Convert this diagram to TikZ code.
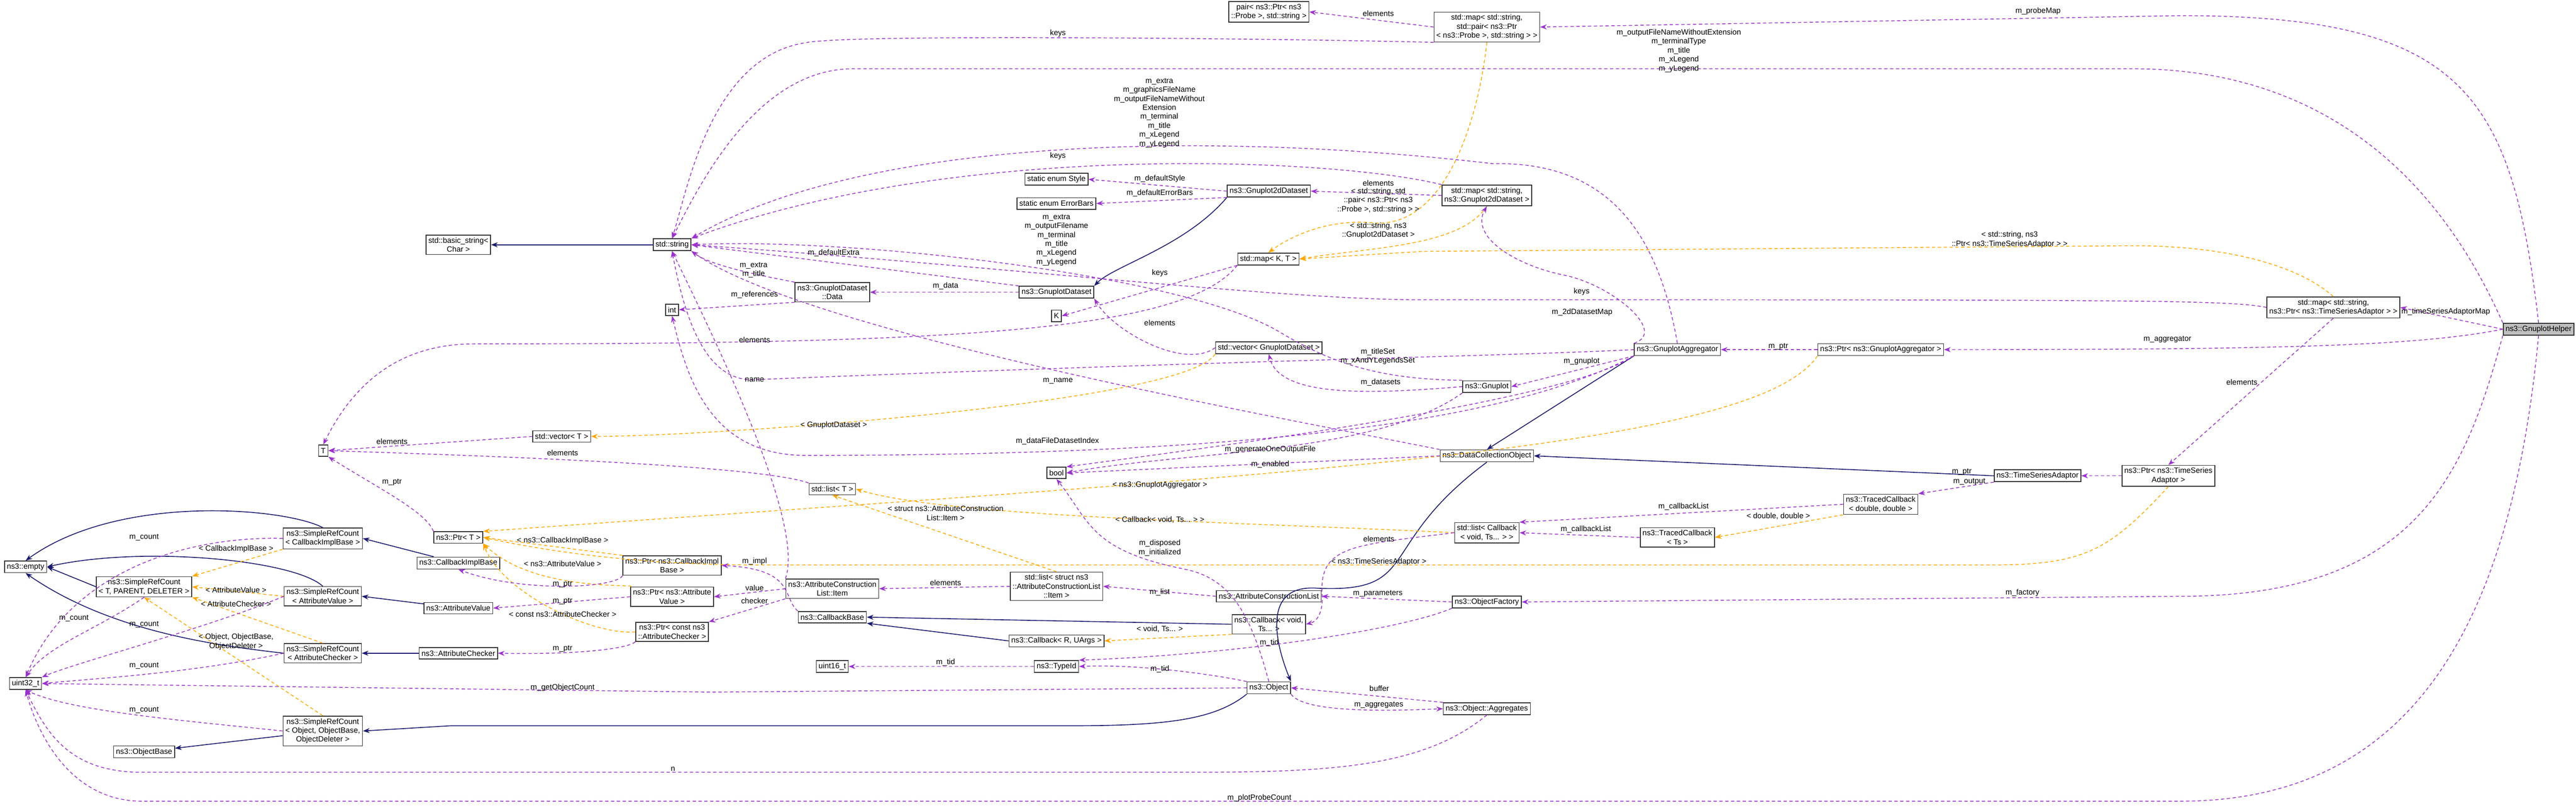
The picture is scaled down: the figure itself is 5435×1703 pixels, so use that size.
\documentclass[tikz,border=0pt]{standalone}
\usepackage{fontspec}
\setmainfont{Liberation Sans}
\usetikzlibrary{arrows.meta}
\definecolor{pur}{HTML}{9A32CD}
\definecolor{org}{HTML}{FFA500}
\definecolor{nav}{HTML}{191970}
\newcommand{\lblfont}{\fontsize{4.6}{5.4}\selectfont}
\tikzset{
  box/.style={draw=black!80, line width=0.5pt, fill=white, inner sep=1.4pt, align=center, font=\lblfont, minimum height=0.24cm},
  lab/.style={font=\lblfont, align=center, inner sep=0.5pt},
  pe/.style={draw=pur, line width=0.45pt, dash pattern=on 2pt off 1.5pt, -{Stealth[length=4pt,width=3pt]}},
  te/.style={draw=org, line width=0.45pt, dash pattern=on 2pt off 1.5pt, -{Stealth[length=4pt,width=3pt]}},
  ie/.style={draw=nav, line width=0.5pt, -{Stealth[length=4pt,width=3pt]}},
}
\begin{document}
\begin{tikzpicture}[x=0.01cm,y=-0.01cm]
\useasboundingbox (0,0) rectangle (5435,1703);
% nodes
\node[box,fill=black!25] (helper) at (5356,694) {ns3::GnuplotHelper};
\node[box] (mapProbe) at (3137,57) {std::map< std::string,\\ std::pair< ns3::Ptr\\< ns3::Probe >, std::string > >};
\node[box] (pair) at (2677,25) {pair< ns3::Ptr< ns3\\::Probe >, std::string >};
\node[box] (g2d) at (2677,403) {ns3::Gnuplot2dDataset};
\node[box] (mapG2d) at (3137,412) {std::map< std::string,\\ ns3::Gnuplot2dDataset >};
\node[box] (mapKT) at (2676,546) {std::map< K, T >};
\node[box] (style) at (2229,378) {static enum Style};
\node[box] (errb) at (2229,429) {static enum ErrorBars};
\node[box] (gds) at (2229,616) {ns3::GnuplotDataset};
\node[box] (data) at (1756,616) {ns3::GnuplotDataset\\::Data};
\node[box] (str) at (1418,516) {std::string};
\node[box] (bstr) at (967,516) {std::basic\_string<\\ Char >};
\node[box] (int) at (1418,653) {int};
\node[box] (K) at (2229,666) {K};
\node[box] (vecG) at (2677,733) {std::vector< GnuplotDataset >};
\node[box] (mapTSA) at (4923,648) {std::map< std::string,\\ ns3::Ptr< ns3::TimeSeriesAdaptor > >};
\node[box] (agg) at (3539,737) {ns3::GnuplotAggregator};
\node[box] (ptrAgg) at (3968,737) {ns3::Ptr< ns3::GnuplotAggregator >};
\node[box] (gnuplot) at (3137,815) {ns3::Gnuplot};
\node[box] (dco) at (3137,961) {ns3::DataCollectionObject};
\node[box] (bool) at (2229,997) {bool};
\node[box] (listT) at (1756,1031) {std::list< T >};
\node[box] (vecT) at (1185,920) {std::vector< T >};
\node[box] (T) at (682,950) {T};
\node[box] (tcdd) at (3968,1063) {ns3::TracedCallback\\< double, double >};
\node[box] (tsa) at (4299,1003) {ns3::TimeSeriesAdaptor};
\node[box] (ptrTsa) at (4575,1003) {ns3::Ptr< ns3::TimeSeries\\Adaptor >};
\node[box] (listCb) at (3137,1123) {std::list< Callback\\< void, Ts... > >};
\node[box] (tcTs) at (3539,1133) {ns3::TracedCallback\\< Ts >};
\node[box] (acl) at (2677,1257) {ns3::AttributeConstructionList};
\node[box] (item) at (1756,1241) {ns3::AttributeConstruction\\List::Item};
\node[box] (listItem) at (2229,1236) {std::list< struct ns3\\::AttributeConstructionList\\::Item >};
\node[box] (of) at (3137,1269) {ns3::ObjectFactory};
\node[box] (cbv) at (2677,1316) {ns3::Callback< void,\\ Ts... >};
\node[box] (cbR) at (2229,1351) {ns3::Callback< R, UArgs >};
\node[box] (cbb) at (1756,1301) {ns3::CallbackBase};
\node[box] (ptrCib) at (1418,1192) {ns3::Ptr< ns3::CallbackImpl\\Base >};
\node[box] (ptrAv) at (1418,1258) {ns3::Ptr< ns3::Attribute\\Value >};
\node[box] (ptrAc) at (1418,1332) {ns3::Ptr< const ns3\\::AttributeChecker >};
\node[box] (u16) at (1756,1405) {uint16\_t};
\node[box] (tid) at (2229,1405) {ns3::TypeId};
\node[box] (obj) at (2677,1450) {ns3::Object};
\node[box] (agr) at (3137,1494) {ns3::Object::Aggregates};
\node[box] (empty) at (54,1195) {ns3::empty};
\node[box] (srcCib) at (681,1135) {ns3::SimpleRefCount\\< CallbackImplBase >};
\node[box] (ptrT) at (967,1133) {ns3::Ptr< T >};
\node[box] (cib) at (967,1187) {ns3::CallbackImplBase};
\node[box] (srcT) at (304,1237) {ns3::SimpleRefCount\\< T, PARENT, DELETER >};
\node[box] (srcAv) at (681,1257) {ns3::SimpleRefCount\\< AttributeValue >};
\node[box] (av) at (967,1282) {ns3::AttributeValue};
\node[box] (srcAc) at (681,1377) {ns3::SimpleRefCount\\< AttributeChecker >};
\node[box] (ac) at (967,1377) {ns3::AttributeChecker};
\node[box] (u32) at (54,1441) {uint32\_t};
\node[box] (srcObj) at (681,1541) {ns3::SimpleRefCount\\< Object, ObjectBase,\\ ObjectDeleter >};
\node[box] (ob) at (304,1585) {ns3::ObjectBase};

% inheritance
\draw[ie] (str) -- (bstr);
\draw[ie] (srcCib.north) .. controls (600,1070) and (250,1040) .. (empty.north);
\draw[ie] (srcAv.north) .. controls (620,1180) and (300,1150) .. (empty.east);
\draw[ie] (srcT.west) -- (empty.east);
\draw[ie] (srcAc.west) .. controls (450,1360) and (230,1330) .. (empty.south);
\draw[ie] (cib) -- (srcCib.east);
\draw[ie] (av) -- (srcAv.east);
\draw[ie] (ac) -- (srcAc.east);
\draw[ie] (obj.south west) .. controls (2560,1520) and (2450,1530) .. (2250,1530) -- (950,1530) -- (srcObj.east);
\draw[ie] (srcObj) -- (ob);
\draw[ie] (cbv.west) -- (cbb.east);
\draw[ie] (cbR.west) -- (cbb.south east);
\draw[ie] (g2d.south west) .. controls (2500,520) and (2350,560) .. (gds.north east);
\draw[ie] (dco.south) .. controls (2900,1150) and (3000,1250) .. (2780,1240) .. controls (2650,1230) and (2700,1380) .. (obj.north east);
\draw[ie] (agg.south west) -- (dco.north);
\draw[ie] (tsa.west) -- (dco.east);

% templates
\draw[te] (srcCib.south west) -- (srcT.north east);
\draw[te] (srcAv.west) -- (srcT.east);
\draw[te] (srcAc.north) -- (srcT.south east);
\draw[te] (srcObj.north) -- (srcT.south);
\draw[te] (ptrCib.north west) -- (ptrT.east);
\draw[te] (ptrAv.north west) .. controls (1350,1230) and (1130,1250) .. (ptrT.south east);
\draw[te] (ptrAc.west) .. controls (1250,1340) and (1060,1250) .. (ptrT.south east);
\draw[te] (ptrAgg.south west) .. controls (3700,950) and (2700,1000) .. (ptrT.north east);
\draw[te] (ptrTsa.south) .. controls (4450,1160) and (4400,1191) .. (4200,1191) -- (1600,1191) .. controls (1300,1191) and (1100,1150) .. (ptrT.east);
\draw[te] (listCb.west) .. controls (2600,1100) and (2000,1090) .. (listT.east);
\draw[te] (listItem.north) -- (listT.south);
\draw[te] (vecG.south west) .. controls (2500,850) and (1500,920) .. (vecT.east);
\draw[te] (mapProbe.south) .. controls (3120,250) and (3050,480) .. (2900,470) .. controls (2800,460) and (2720,500) .. (mapKT.north);
\draw[te] (mapG2d.south) .. controls (3080,520) and (2900,520) .. (mapKT.east);
\draw[te] (mapTSA.north) .. controls (4850,560) and (4700,518) .. (4500,518) -- (3000,530) -- (mapKT.east);
\draw[te] (cbv.south west) -- (cbR.east);
\draw[te] (tcdd.south west) -- (tcTs.east);

% members
\draw[pe] (srcCib.west) .. controls (400,1130) and (150,1200) .. (u32.north);
\draw[pe] (srcT.south) .. controls (200,1330) and (100,1360) .. (u32.north);
\draw[pe] (srcAv.west) .. controls (450,1320) and (150,1400) .. (u32.north east);
\draw[pe] (srcAc.west) .. controls (400,1420) and (200,1430) .. (u32.east);
\draw[pe] (srcObj.west) .. controls (400,1520) and (150,1500) .. (u32.south);
\draw[pe] (obj.west) -- (1500,1459) -- (u32.east);
\draw[pe] (agr.south) .. controls (3000,1620) and (2800,1628) .. (2500,1628) -- (300,1628) .. controls (150,1628) and (100,1550) .. (u32.south);
\draw[pe] (helper.south) .. controls (5300,1300) and (5100,1689) .. (4600,1689) -- (300,1689) .. controls (150,1689) and (80,1550) .. (u32.south);
\draw[pe] (ptrT.north west) .. controls (900,1080) and (800,1030) .. (T.south east);
\draw[pe] (vecT.west) -- (T.east);
\draw[pe] (listT.north west) .. controls (1600,980) and (1000,960) .. (T.east);
\draw[pe] (mapKT.south west) .. controls (2500,700) and (2000,725) .. (1000,725) .. controls (850,725) and (750,800) .. (T.north);
\draw[pe] (mapKT.south west) -- (K.east);
\draw[pe] (ptrCib.south west) .. controls (1300,1240) and (1100,1250) .. (cib.south);
\draw[pe] (ptrAv.west) -- (av.east);
\draw[pe] (ptrAc.south west) .. controls (1320,1370) and (1200,1380) .. (ac.east);
\draw[pe] (item.west) -- (ptrAv.east);
\draw[pe] (item.south west) -- (ptrAc.north east);
\draw[pe] (item.north west) .. controls (1700,1100) and (1500,700) .. (str.south);
\draw[pe] (cbb.north west) .. controls (1650,1260) and (1680,1200) .. (ptrCib.east);
\draw[pe] (listItem.west) -- (item.east);
\draw[pe] (acl.west) -- (listItem.east);
\draw[pe] (of.west) -- (acl.east);
\draw[pe] (of.south west) .. controls (2950,1330) and (2600,1380) .. (tid.north east);
\draw[pe] (obj.north west) .. controls (2550,1420) and (2400,1400) .. (tid.east);
\draw[pe] (tid.west) -- (u16.east);
\draw[pe] (obj.north) .. controls (2640,1300) and (2600,1220) .. (2500,1200) .. controls (2300,1160) and (2300,1100) .. (bool.south);
\draw[pe] (obj.south east) .. controls (2750,1500) and (2900,1500) .. (agr.west);
\draw[pe] (agr.north west) -- (obj.east);
\draw[pe] (g2d.west) -- (style.east);
\draw[pe] (g2d.south west) -- (errb.east);
\draw[pe] (gds.west) -- (data.east);
\draw[pe] (gds.north west) -- (str.east);
\draw[pe] (data.north west) .. controls (1600,580) and (1500,560) .. (str.south east);
\draw[pe] (data.south west) -- (int.east);
\draw[pe] (mapG2d.west) -- (g2d.east);
\draw[pe] (mapG2d.north west) .. controls (2800,330) and (2000,300) .. (str.north east);
\draw[pe] (mapProbe.west) -- (pair.east);
\draw[pe] (mapProbe.south west) .. controls (2800,83) and (1800,70) .. (1700,90) .. controls (1500,120) and (1450,400) .. (str.north);
\draw[pe] (helper.north) .. controls (5300,200) and (5200,33) .. (4600,33) -- (mapProbe.east);
\draw[pe] (helper.north west) .. controls (5200,500) and (5000,145) .. (4500,145) -- (1800,145) .. controls (1600,145) and (1480,380) .. (str.north);
\draw[pe] (agg.north) .. controls (3500,500) and (3400,340) .. (3150,345) .. controls (2500,270) and (1800,300) .. (str.north east);
\draw[pe] (gnuplot.north west) .. controls (2900,800) and (2800,760) .. (2700,700) .. controls (2500,580) and (1800,500) .. (str.east);
\draw[pe] (mapTSA.west) .. controls (4700,632) and (4500,632) .. (3000,632) .. controls (2700,632) and (2100,560) .. (str.east);
\draw[pe] (helper.west) .. controls (5100,730) and (4800,737) .. (ptrAgg.east);
\draw[pe] (helper.south west) .. controls (5200,1000) and (5100,1257) .. (4600,1257) -- (of.east);
\draw[pe] (helper.west) -- (mapTSA.east);
\draw[pe] (mapTSA.south) -- (ptrTsa.north);
\draw[pe] (ptrTsa.west) -- (tsa.east);
\draw[pe] (tsa.south west) -- (tcdd.north east);
\draw[pe] (tcdd.west) -- (listCb.north east);
\draw[pe] (tcTs.west) -- (listCb.east);
\draw[pe] (listCb.west) .. controls (2850,1150) and (2780,1150) .. (2790,1260) .. controls (2790,1290) and (2780,1310) .. (cbv.east);
\draw[pe] (ptrAgg.west) -- (agg.east);
\draw[pe] (agg.south west) -- (gnuplot.east);
\draw[pe] (agg.west) .. controls (3200,750) and (2600,760) .. (1600,800) .. controls (1500,810) and (1450,700) .. (str.south);
\draw[pe] (agg.north west) .. controls (3520,700) and (3400,600) .. (3300,580) .. controls (3200,560) and (3100,500) .. (mapG2d.south);
\draw[pe] (agg.south west) .. controls (3300,850) and (2500,950) .. (bool.north east);
\draw[pe] (agg.south west) .. controls (3200,880) and (2700,960) .. (1700,960) .. controls (1500,960) and (1450,800) .. (int.south);
\draw[pe] (gnuplot.west) .. controls (2900,830) and (2700,840) .. (vecG.south);
\draw[pe] (gnuplot.south west) .. controls (2900,960) and (2500,950) .. (bool.east);
\draw[pe] (dco.west) -- (bool.east);
\draw[pe] (dco.north west) .. controls (2700,880) and (1700,700) .. (str.south east);
\draw[pe] (vecG.west) .. controls (2500,780) and (2350,700) .. (gds.south east);

% labels
\node[lab] at (4300,24) {m\_probeMap};
\node[lab] at (2908,28) {elements};
\node[lab] at (2232,70) {keys};
\node[lab] at (3542,107) {m\_outputFileNameWithoutExtension\\m\_terminalType\\m\_title\\m\_xLegend\\m\_yLegend};
\node[lab] at (2446,238) {m\_extra\\m\_graphicsFileName\\m\_outputFileNameWithout\\Extension\\m\_terminal\\m\_title\\m\_xLegend\\m\_yLegend};
\node[lab] at (2232,329) {keys};
\node[lab] at (2447,377) {m\_defaultStyle};
\node[lab] at (2447,407) {m\_defaultErrorBars};
\node[lab] at (2908,386) {elements};
\node[lab] at (2908,423) {< std::string, std\\::pair< ns3::Ptr< ns3\\::Probe >, std::string > >};
\node[lab] at (2908,486) {< std::string, ns3\\::Gnuplot2dDataset >};
\node[lab] at (4240,505) {< std::string, ns3\\::Ptr< ns3::TimeSeriesAdaptor > >};
\node[lab] at (2229,506) {m\_extra\\m\_outputFilename\\m\_terminal\\m\_title\\m\_xLegend\\m\_yLegend};
\node[lab] at (1759,533) {m\_defaultExtra};
\node[lab] at (1590,569) {m\_extra\\m\_title};
\node[lab] at (2447,576) {keys};
\node[lab] at (1995,603) {m\_data};
\node[lab] at (1592,621) {m\_references};
\node[lab] at (3337,615) {keys};
\node[lab] at (3338,658) {m\_2dDatasetMap};
\node[lab] at (5160,657) {m\_timeSeriesAdaptorMap};
\node[lab] at (2447,681) {elements};
\node[lab] at (1592,717) {elements};
\node[lab] at (4573,716) {m\_aggregator};
\node[lab] at (3752,731) {m\_ptr};
\node[lab] at (2907,751) {m\_titleSet\\m\_xAndYLegendsSet};
\node[lab] at (3337,762) {m\_gnuplot};
\node[lab] at (2913,806) {m\_datasets};
\node[lab] at (1592,801) {name};
\node[lab] at (2232,803) {m\_name};
\node[lab] at (4730,806) {elements};
\node[lab] at (1759,896) {< GnuplotDataset >};
\node[lab] at (2231,930) {m\_dataFileDatasetIndex};
\node[lab] at (827,931) {elements};
\node[lab] at (2680,947) {m\_generateOneOutputFile};
\node[lab] at (1187,955) {elements};
\node[lab] at (2680,979) {m\_enabled};
\node[lab] at (4139,995) {m\_ptr};
\node[lab] at (827,1017) {m\_ptr};
\node[lab] at (4155,1016) {m\_output};
\node[lab] at (2447,1022) {< ns3::GnuplotAggregator >};
\node[lab] at (3552,1068) {m\_callbackList};
\node[lab] at (1995,1082) {< struct ns3::AttributeConstruction\\List::Item >};
\node[lab] at (3752,1088) {< double, double >};
\node[lab] at (2447,1096) {< Callback< void, Ts... > >};
\node[lab] at (3346,1116) {m\_callbackList};
\node[lab] at (304,1133) {m\_count};
\node[lab] at (1187,1140) {< ns3::CallbackImplBase >};
\node[lab] at (2909,1136) {elements};
\node[lab] at (498,1157) {< CallbackImplBase >};
\node[lab] at (2447,1155) {m\_disposed\\m\_initialized};
\node[lab] at (1592,1183) {m\_impl};
\node[lab] at (2909,1184) {< ns3::TimeSeriesAdaptor >};
\node[lab] at (1187,1188) {< ns3::AttributeValue >};
\node[lab] at (1995,1229) {elements};
\node[lab] at (1187,1232) {m\_ptr};
\node[lab] at (1592,1239) {value};
\node[lab] at (498,1244) {< AttributeValue >};
\node[lab] at (2447,1248) {m\_list};
\node[lab] at (2907,1251) {m\_parameters};
\node[lab] at (4267,1250) {m\_factory};
\node[lab] at (1592,1266) {checker};
\node[lab] at (1187,1268) {m\_ptr};
\node[lab] at (498,1273) {< AttributeChecker >};
\node[lab] at (1187,1295) {< const ns3::AttributeChecker >};
\node[lab] at (156,1304) {m\_count};
\node[lab] at (304,1316) {m\_count};
\node[lab] at (2447,1326) {< void, Ts... >};
\node[lab] at (498,1353) {< Object, ObjectBase,\\ObjectDeleter >};
\node[lab] at (2678,1355) {m\_tid};
\node[lab] at (1187,1368) {m\_ptr};
\node[lab] at (1995,1396) {m\_tid};
\node[lab] at (304,1403) {m\_count};
\node[lab] at (2447,1411) {m\_tid};
\node[lab] at (1187,1450) {m\_getObjectCount};
\node[lab] at (2910,1451) {buffer};
\node[lab] at (2909,1486) {m\_aggregates};
\node[lab] at (304,1497) {m\_count};
\node[lab] at (1420,1621) {n};
\node[lab] at (2657,1682) {m\_plotProbeCount};
\end{tikzpicture}
\end{document}
